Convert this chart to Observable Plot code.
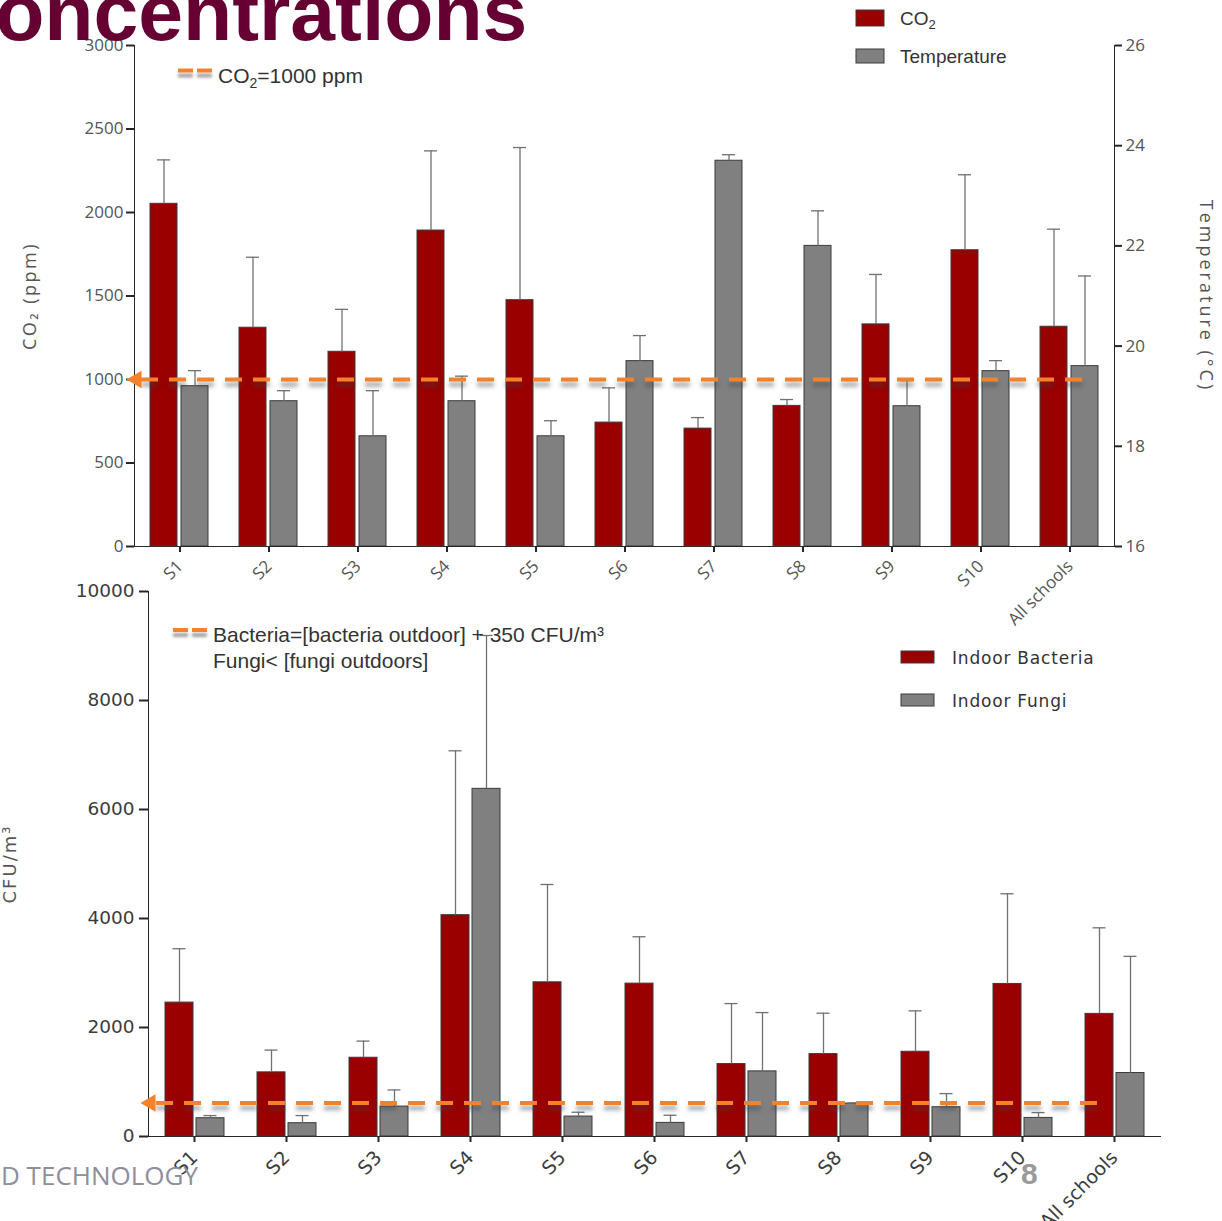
<!DOCTYPE html>
<html>
<head>
<meta charset="utf-8">
<title>Indoor CO2, temperature and bioaerosol concentrations</title>
<script src="https://cdn.jsdelivr.net/npm/d3@7"></script>
<script src="https://cdn.jsdelivr.net/npm/@observablehq/plot@0.6"></script>
<style>
  html, body { margin: 0; padding: 0; background: #fff; }
  #page { position: relative; width: 1222px; height: 1221px; overflow: hidden; background: #fff; }
  #page > svg { position: absolute; left: 0; }
</style>
</head>
<body>
<div id="page"></div>
<script>
// Schools and summary statistics (mean and standard deviation per school)
const schools = ["S1", "S2", "S3", "S4", "S5", "S6", "S7", "S8", "S9", "S10", "All schools"];

const co2Mean = [2052, 1310, 1166, 1892, 1475, 742, 706, 842, 1330, 1774, 1316];
const co2Sd   = [263, 422, 254, 477, 914, 208, 66, 38, 299, 452, 584];

const tempMean = [19.2, 18.9, 18.2, 18.9, 18.2, 19.7, 23.7, 22.0, 18.8, 19.5, 19.6];
const tempSd   = [0.31, 0.21, 0.91, 0.5, 0.31, 0.51, 0.12, 0.7, 0.51, 0.21, 1.8];

const bacteriaMean = [2457, 1177, 1445, 4061, 2829, 2805, 1329, 1512, 1555, 2799, 2250];
const bacteriaSd   = [988, 408, 305, 3016, 1795, 860, 1110, 750, 750, 1655, 1579];

const fungiMean = [335, 244, 549, 6379, 366, 250, 1195, 604, 537, 341, 1165];
const fungiSd   = [49, 140, 305, 2814, 79, 140, 1079, 12, 250, 98, 2140];

const co2Ticks  = [0, 500, 1000, 1500, 2000, 2500, 3000];
const tempTicks = [16, 18, 20, 22, 24, 26];
const cfuTicks  = [0, 2000, 4000, 6000, 8000, 10000];

const co2Limit = 1000;      // ppm guideline
const bacteriaLimit = 615;  // CFU/m3 guideline

// ---------------------------------------------------------------
const RED = "#990000", GREY = "#808080", EDGE = "#3a3a3a", ERR = "#707070", ORANGE = "#f4812c";
const DASH = "17,11";

const rows = (mean, sd) => schools.map((school, i) => ({school, value: mean[i], sd: sd[i]}));
const co2Rows = rows(co2Mean, co2Sd);
const tempRows = rows(tempMean, tempSd);
const bacteriaRows = rows(bacteriaMean, bacteriaSd);
const fungiRows = rows(fungiMean, fungiSd);

const page = document.getElementById("page");

function place(svg, top) {
  svg.style.top = top + "px";
  page.appendChild(svg);
  return svg;
}

// Soft shadow filter in user space (the dashed rules have a zero-height bounding box)
let blurCount = 0;
function addBlur(svgSel, sd) {
  const id = "soft-shadow-" + (blurCount++);
  svgSel.append("defs").append("filter").attr("id", id)
    .attr("filterUnits", "userSpaceOnUse")
    .attr("x", -50).attr("y", -50).attr("width", 1400).attr("height", 1400)
    .append("feGaussianBlur").attr("stdDeviation", sd);
  return `url(#${id})`;
}

function finish(svg, o) {
  const s = d3.select(svg);
  s.selectAll("[aria-label*='axis'] line, [aria-label*='axis'] path")
    .style("stroke", "#262626").style("stroke-width", "2px");
  s.selectAll("[aria-label*='axis'] text").style("fill", o.labelColor);
  s.selectAll("[aria-label^='x-axis'] text").style("font-size", o.xFont + "px");
  s.selectAll("[aria-label^='y-axis'] text").style("font-size", o.yFont + "px");
  const f = addBlur(s, 2);
  s.selectAll("[aria-label='limit shadow']").attr("filter", f);
  s.selectAll("[aria-label='axis title']").style("letter-spacing", o.titleSpacing + "px");
}

// Grouped bar helpers: each school's band holds a pair of bars
function barPair(data, o) {
  return [
    Plot.barY(data, {x: "school", y1: o.base, y2: "value", fill: o.fill, stroke: EDGE, strokeWidth: 1,
      insetLeft: o.bar[0], insetRight: o.bar[1]}),
    Plot.ruleX(data, {x: "school", y1: "value", y2: d => d.value + d.sd, dx: o.dx, stroke: ERR, strokeWidth: 1.3}),
    Plot.tickY(data, {x: "school", y: d => d.value + d.sd, insetLeft: o.cap[0], insetRight: o.cap[1],
      stroke: ERR, strokeWidth: 1.3})
  ];
}

function limitLine(value, insetLeft, insetRight, dx) {
  return [
    Plot.ruleY([value], {y: d => d, stroke: "#444", strokeOpacity: 0.5, strokeWidth: 4, strokeDasharray: DASH,
      dy: 5, insetLeft, insetRight, ariaLabel: () => "limit shadow"}),
    Plot.ruleY([value], {y: d => d, stroke: ORANGE, strokeWidth: 4, strokeDasharray: DASH, insetLeft, insetRight}),
    Plot.dot([value], {y: d => d, frameAnchor: "left", symbol: "triangle", rotate: -90, r: 6.5,
      fill: ORANGE, stroke: "none", dx})
  ];
}

// ---------- Top: CO2 (left axis) and temperature (right axis) ----------
const topFrame = {
  width: 1222, height: 640,
  marginLeft: 134, marginRight: 108, marginTop: 45, marginBottom: 94,
  style: {background: "transparent", overflow: "visible",
    fontFamily: "'Open Sans', 'Noto Sans', sans-serif", fontSize: "16px", color: "#262626"}
};

const tempPlot = Plot.plot({
  ...topFrame,
  x: {domain: schools, padding: 0, axis: null},
  y: {domain: [16, 26], axis: "right", ticks: tempTicks, tickFormat: d3.format("d"),
      tickSize: 7, tickPadding: 4, line: true, label: null},
  marks: [
    ...barPair(tempRows, {base: 16, fill: GREY, bar: [46, 16], dx: 15, cap: [53, 23]}),
    Plot.text(["Temperature (°C)"], {text: d => d, frameAnchor: "right", dx: 91, rotate: 90,
      textAnchor: "middle", fontSize: 18, fill: "#555", ariaLabel: () => "axis title"})
  ]
});
place(tempPlot, 0);
finish(tempPlot, {labelColor: "#555", xFont: 17, yFont: 17, titleSpacing: 3});

const co2Plot = Plot.plot({
  ...topFrame,
  x: {domain: schools, padding: 0, tickRotate: -45, tickSize: 6, tickPadding: 11, line: true, label: null},
  y: {domain: [0, 3000], ticks: co2Ticks, tickFormat: d3.format("d"),
      tickSize: 8, tickPadding: 3, line: true, label: null},
  marks: [
    ...barPair(co2Rows, {base: 0, fill: RED, bar: [15, 47], dx: -16, cap: [22, 54]}),
    ...limitLine(co2Limit, 7, 22, 2),
    Plot.text(["CO₂ (ppm)"], {text: d => d, frameAnchor: "left", dx: -104, rotate: -90,
      textAnchor: "middle", fontSize: 18, fill: "#555", ariaLabel: () => "axis title"})
  ]
});
place(co2Plot, 0);
finish(co2Plot, {labelColor: "#555", xFont: 17, yFont: 17, titleSpacing: 2.5});

// ---------- Bottom: indoor bacteria and fungi ----------
const cfuPlot = Plot.plot({
  width: 1222, height: 661,
  marginLeft: 148, marginRight: 62, marginTop: 31, marginBottom: 85,
  style: {background: "transparent", overflow: "visible",
    fontFamily: "'DejaVu Sans', sans-serif", fontSize: "17px", color: "#262626"},
  x: {domain: schools, padding: 0, tickRotate: -45, tickSize: 6, tickPadding: 12, line: true, label: null},
  y: {domain: [0, 10000], ticks: cfuTicks, tickFormat: d3.format("d"),
      tickSize: 9, tickPadding: 5, line: true, label: null},
  marks: [
    ...barPair(bacteriaRows, {base: 0, fill: RED, bar: [17, 47], dx: -15, cap: [24.5, 54.5]}),
    ...barPair(fungiRows, {base: 0, fill: GREY, bar: [48, 16], dx: 16, cap: [55.5, 23.5]}),
    ...limitLine(bacteriaLimit, 8, 54, 2),
    Plot.text(["CFU/m³"], {text: d => d, frameAnchor: "left", dx: -138, rotate: -90,
      textAnchor: "middle", fontSize: 18, fill: "#555", ariaLabel: () => "axis title"})
  ]
});
place(cfuPlot, 560);
finish(cfuPlot, {labelColor: "#3c3c3c", xFont: 19, yFont: 18.5, titleSpacing: 2});

// ---------- Titles, keys and footer ----------
const ov = d3.select(page).append("svg")
  .attr("width", 1222).attr("height", 1221)
  .style("top", "0px").style("pointer-events", "none");
const keyBlur = addBlur(ov, 1.6);

const SANS = "'Liberation Sans', Arial, sans-serif";

ov.append("text")
  .attr("x", -63).attr("y", 40)
  .attr("font-family", SANS).attr("font-weight", "bold").attr("font-size", 80.5)
  .attr("fill", "#660033")
  .text("Concentrations");

function dashKey(x, y) {
  ov.append("line").attr("x1", x).attr("x2", x + 38).attr("y1", y + 5).attr("y2", y + 5)
    .attr("stroke", "#444").attr("stroke-opacity", 0.5).attr("stroke-width", 4)
    .attr("stroke-dasharray", "15,4").attr("filter", keyBlur);
  ov.append("line").attr("x1", x).attr("x2", x + 38).attr("y1", y).attr("y2", y)
    .attr("stroke", ORANGE).attr("stroke-width", 4).attr("stroke-dasharray", "15,4");
}

// CO2 guideline key
dashKey(178, 70.5);
{
  const t = ov.append("text").attr("x", 218).attr("y", 83)
    .attr("font-family", SANS).attr("font-size", 21).attr("fill", "#333");
  t.append("tspan").text("CO");
  t.append("tspan").attr("font-size", 14).attr("dy", 5).text("2");
  t.append("tspan").attr("dy", -5).text("=1000 ppm");
}

// Bacteria / fungi guideline key
dashKey(173, 630);
ov.append("text").attr("x", 213).attr("y", 642)
  .attr("font-family", SANS).attr("font-size", 21).attr("fill", "#333")
  .text("Bacteria=[bacteria outdoor] + 350 CFU/m³");
ov.append("text").attr("x", 213).attr("y", 668)
  .attr("font-family", SANS).attr("font-size", 21).attr("fill", "#333")
  .text("Fungi< [fungi outdoors]");

// Series keys
function swatch(x, y, w, h, fill) {
  ov.append("rect").attr("x", x).attr("y", y).attr("width", w).attr("height", h)
    .attr("fill", fill).attr("stroke", EDGE).attr("stroke-width", 1);
}
swatch(856, 10, 28, 16, RED);
{
  const t = ov.append("text").attr("x", 900).attr("y", 25)
    .attr("font-family", SANS).attr("font-size", 19).attr("fill", "#333");
  t.append("tspan").text("CO");
  t.append("tspan").attr("font-size", 13).attr("dy", 4).text("2");
}
swatch(856, 49, 28, 14, GREY);
ov.append("text").attr("x", 900).attr("y", 63)
  .attr("font-family", SANS).attr("font-size", 19).attr("fill", "#333")
  .text("Temperature");

swatch(901, 651, 33, 12, RED);
ov.append("text").attr("x", 952).attr("y", 664)
  .attr("font-family", "'DejaVu Sans', sans-serif").attr("font-size", 17).attr("fill", "#333")
  .attr("letter-spacing", 0.8)
  .text("Indoor Bacteria");
swatch(901, 694, 33, 12, GREY);
ov.append("text").attr("x", 952).attr("y", 707)
  .attr("font-family", "'DejaVu Sans', sans-serif").attr("font-size", 17).attr("fill", "#333")
  .attr("letter-spacing", 0.8)
  .text("Indoor Fungi");

// Footer
ov.append("text").attr("x", 1).attr("y", 1185)
  .attr("font-family", "'Open Sans', sans-serif").attr("font-size", 26).attr("fill", "#8e8e9c")
  .text("D TECHNOLOGY");
ov.append("text").attr("x", 1021).attr("y", 1184)
  .attr("font-family", SANS).attr("font-weight", "bold").attr("font-size", 30).attr("fill", "#9a9a9a")
  .text("8");
</script>
</body>
</html>
